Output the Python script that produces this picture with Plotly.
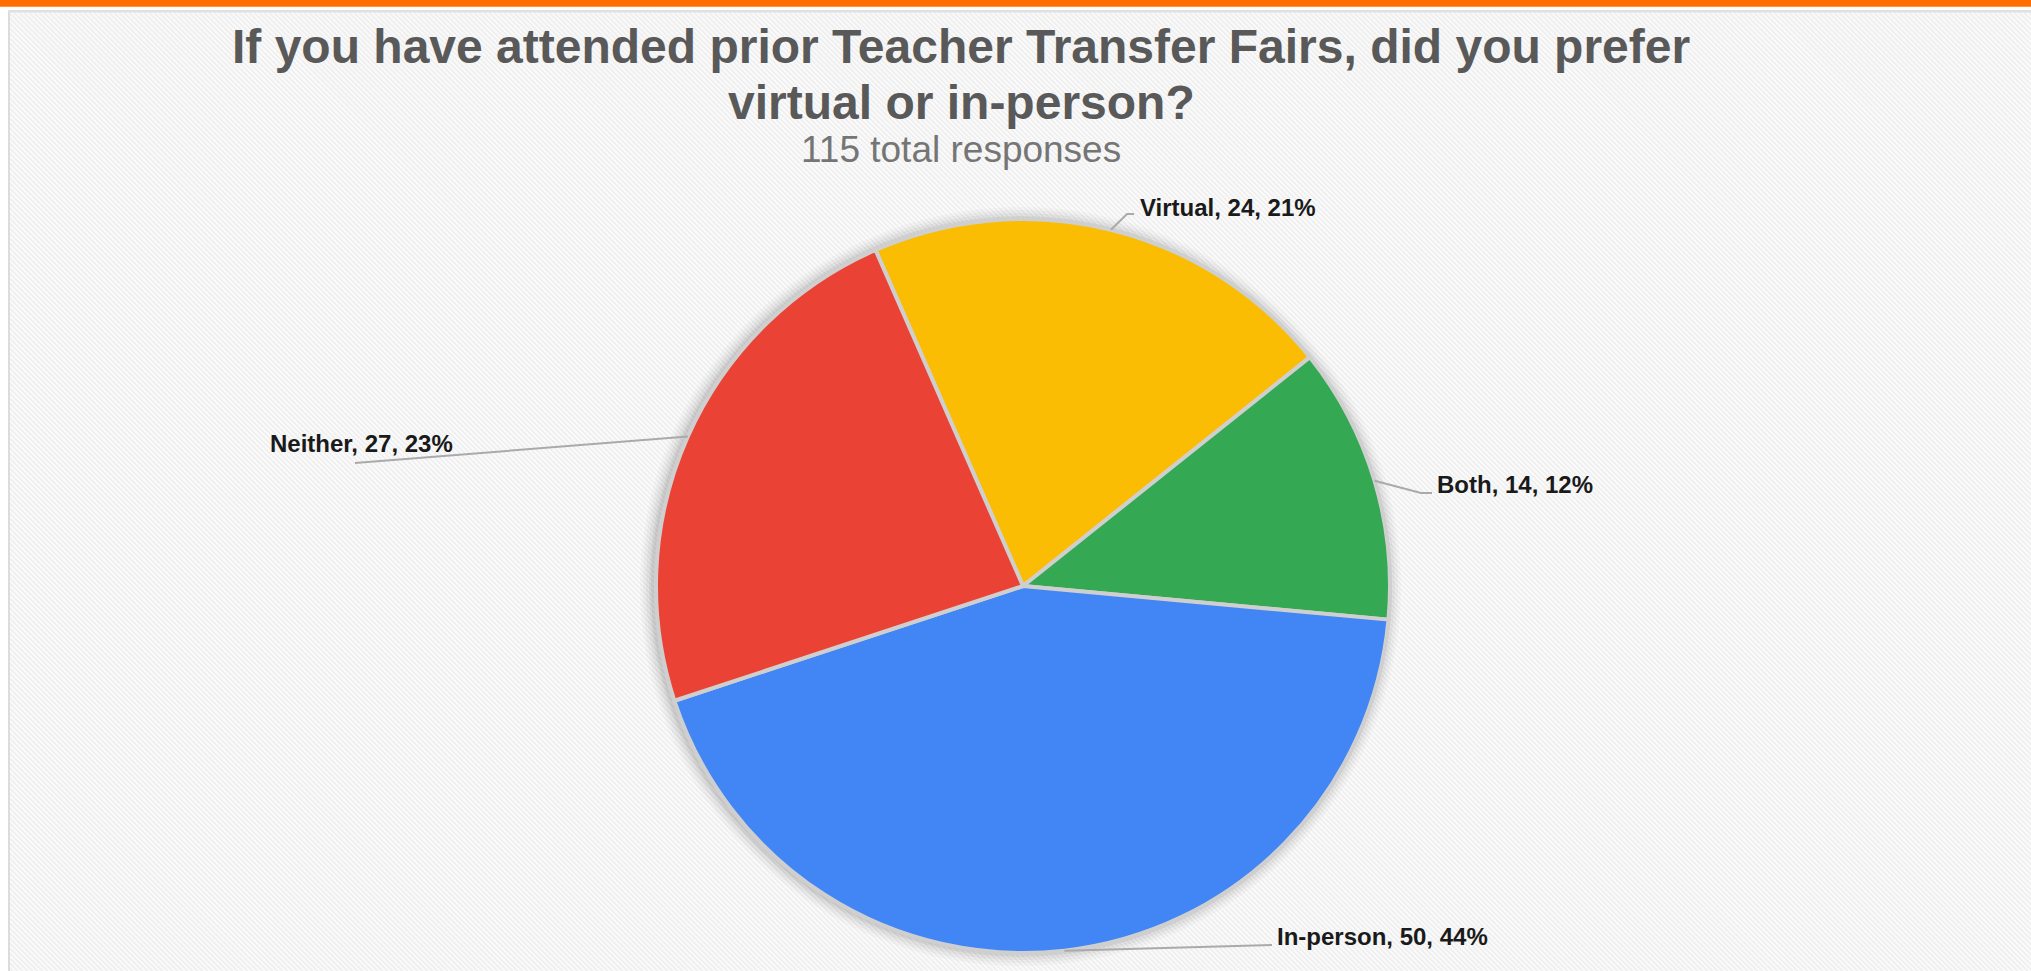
import math
import plotly.graph_objects as go

# ---------------- data ----------------
categories = ["Virtual", "Both", "In-person", "Neither"]
responses = [24, 14, 50, 27]
slice_colors = ["#FBBC04", "#34A853", "#4285F4", "#EA4335"]
title_line1 = "If you have attended prior Teacher Transfer Fairs, did you prefer"
title_line2 = "virtual or in-person?"
subtitle = "115 total responses"

# ---------------- layout constants (pixels) ----------------
W, H = 2031, 971
CX, CY, R = 1023, 586, 367
ROTATION = -23.7
FONT = "Arial, 'Liberation Sans', Helvetica, sans-serif"

# label anchors (left x, middle y) and leader elbows / ends, per category
label_pos = {
    "Virtual": (1138, 207.5),
    "Both": (1435, 484.5),
    "In-person": (1275, 936.5),
    "Neither": (268, 443.5),
}
leader_path = {
    "Virtual": [(1127, 214), (1134, 214)],
    "Both": [(1421, 493), (1432, 493)],
    "In-person": [(1272, 945)],
    "Neither": [(355, 463)],
}


def px(x):
    return x / W


def py(y):
    return 1 - y / H


# percentages rounded with largest remainder so they sum to 100
total = sum(responses)
raw = [100 * v / total for v in responses]
pcts = [int(math.floor(r)) for r in raw]
order = sorted(range(len(raw)), key=lambda i: raw[i] - pcts[i], reverse=True)
for i in order[:100 - sum(pcts)]:
    pcts[i] += 1

fig = go.Figure()

fig.add_trace(go.Pie(
    labels=categories,
    values=responses,
    sort=False,
    direction="clockwise",
    rotation=ROTATION,
    marker=dict(colors=slice_colors, line=dict(color="#cfcfcf", width=4)),
    textinfo="none",
    hoverinfo="label+value+percent",
    showlegend=False,
    domain=dict(x=[px(CX - R), px(CX + R)], y=[py(CY + R), py(CY - R)]),
))

shapes = []
# striped light background
shapes.append(dict(type="rect", xref="paper", yref="paper", x0=px(10), x1=1, y0=0, y1=py(12.5),
                   fillcolor="#fbfbfb", line=dict(width=0), layer="below"))
step = 5
x = 10 - H
while x < W:
    shapes.append(dict(type="line", xref="paper", yref="paper",
                       x0=px(x), y0=py(12.5), x1=px(x + (H - 12.5)), y1=0,
                       line=dict(color="#efefef", width=1.8), layer="below"))
    x += step
# mask stripes to the left of border
shapes.append(dict(type="rect", xref="paper", yref="paper", x0=0, x1=px(8), y0=0, y1=1,
                   fillcolor="#ffffff", line=dict(width=0), layer="below"))
# white top gap + orange bar
shapes.append(dict(type="rect", xref="paper", yref="paper", x0=0, x1=1, y0=py(10), y1=1,
                   fillcolor="#ffffff", line=dict(width=0), layer="below"))
shapes.append(dict(type="rect", xref="paper", yref="paper", x0=0, x1=1, y0=py(6.8), y1=1,
                   fillcolor="#FF6D00", line=dict(width=0), layer="below"))
# light grey frame lines
shapes.append(dict(type="rect", xref="paper", yref="paper", x0=px(8), x1=px(10), y0=0, y1=py(10),
                   fillcolor="#dcdcdc", line=dict(width=0), layer="below"))
shapes.append(dict(type="rect", xref="paper", yref="paper", x0=px(8), x1=1, y0=py(12.5), y1=py(10),
                   fillcolor="#e0e0e0", line=dict(width=0), layer="below"))
# soft shadow around the pie
for k, a in [(13, 0.025), (10, 0.03), (7, 0.04), (4, 0.05), (2, 0.05)]:
    shapes.append(dict(type="circle", xref="paper", yref="paper",
                       x0=px(CX - R - k - 3), x1=px(CX + R + k - 2),
                       y0=py(CY + R + k), y1=py(CY - R - k + 1),
                       fillcolor=f"rgba(0,0,0,{a})", line=dict(width=0), layer="below"))

# leader lines from slice mid-angles
cum = 0
annotations = []
for cat, v, pct in zip(categories, responses, pcts):
    mid = math.radians(ROTATION + 360 * (cum + v / 2) / total)
    cum += v
    ex, ey = CX + R * math.sin(mid), CY - R * math.cos(mid)
    pts = [(ex, ey)] + leader_path[cat]
    path = "M " + " L ".join(f"{px(a)},{py(b)}" for a, b in pts)
    shapes.append(dict(type="path", xref="paper", yref="paper", path=path,
                       line=dict(color="#aaaaaa", width=2), layer="above"))
    lx, ly = label_pos[cat]
    annotations.append(dict(xref="paper", yref="paper", x=px(lx), y=py(ly),
                            xanchor="left", yanchor="middle", showarrow=False,
                            text=f"<b>{cat}, {v}, {pct}%</b>",
                            font=dict(family=FONT, size=24, color="#1a1a1a")))

# titles
annotations.append(dict(xref="paper", yref="paper", x=px(961), y=py(46.5), xanchor="center",
                        yanchor="middle", showarrow=False, text=f"<b>{title_line1}</b>",
                        font=dict(family=FONT, size=48, color="#595959")))
annotations.append(dict(xref="paper", yref="paper", x=px(961), y=py(102.5), xanchor="center",
                        yanchor="middle", showarrow=False, text=f"<b>{title_line2}</b>",
                        font=dict(family=FONT, size=48, color="#595959")))
annotations.append(dict(xref="paper", yref="paper", x=px(961), y=py(150), xanchor="center",
                        yanchor="middle", showarrow=False, text=subtitle,
                        font=dict(family=FONT, size=37, color="#757575")))

fig.update_layout(
    width=W, height=H,
    margin=dict(l=0, r=0, t=0, b=0),
    paper_bgcolor="#fbfbfb",
    plot_bgcolor="#fbfbfb",
    shapes=shapes,
    annotations=annotations,
)

fig.write_html("out.html", config={"displayModeBar": False},
               post_script="document.body.style.margin='0px';document.body.style.overflow='hidden';")
